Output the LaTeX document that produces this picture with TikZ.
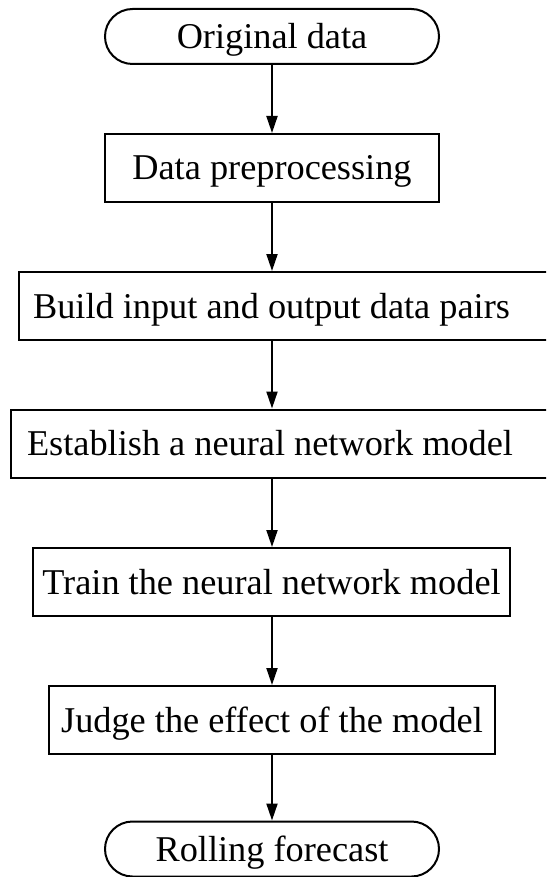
\documentclass[tikz,border=0pt]{standalone}
\usepackage{fontspec}
\setmainfont{Liberation Serif}
\usetikzlibrary{arrows.meta}
\tikzset{
  stepbox/.style={draw, line width=2pt, minimum height=68pt, inner sep=0pt,
    font=\fontsize{36.3pt}{40pt}\selectfont, text height=24pt, text depth=0pt},
  termbox/.style={stepbox, minimum height=55pt, rounded corners=27.5pt},
  plainbox/.style={draw, line width=2pt, minimum height=68pt, inner sep=0pt},
  label/.style={font=\fontsize{36.3pt}{40pt}\selectfont, text height=24pt, text depth=0pt, inner sep=0pt},
  flow/.style={line width=2pt, -{Triangle[length=17pt,width=11pt]}}
}
\begin{document}
\begin{tikzpicture}[x=1pt,y=-1pt]
\useasboundingbox (0,0) rectangle (546,877);
\clip (0,0) rectangle (546,877);
\node[termbox, minimum width=334pt] (n1) at (272,36.5) {Original data};
\node[stepbox, minimum width=334pt] (n2) at (272,168) {Data preprocessing};
\node[plainbox, minimum width=545pt] (n3) at (291.5,306) {};
\node[label] (t3) at (271.5,306) {Build input and output data pairs};
\node[plainbox, minimum width=553pt] (n4) at (287.5,443.5) {};
\node[label] (t4) at (270,443.5) {Establish a neural network model};
\node[stepbox, minimum width=477pt] (n5) at (271.5,582) {Train the neural network model};
\node[stepbox, minimum width=446pt] (n6) at (272,720) {Judge the effect of the model};
\node[termbox, minimum width=334pt] (n7) at (272,849) {Rolling forecast};
\draw[flow] (n1.south) -- (n2.north);
\draw[flow] (n2.south) -- (n2.south |- n3.north);
\draw[flow] (n2.south |- n3.south) -- (n2.south |- n4.north);
\draw[flow] (n2.south |- n4.south) -- (n2.south |- n5.north);
\draw[flow] (n2.south |- n5.south) -- (n2.south |- n6.north);
\draw[flow] (n2.south |- n6.south) -- (n7.north);
\end{tikzpicture}
\end{document}
